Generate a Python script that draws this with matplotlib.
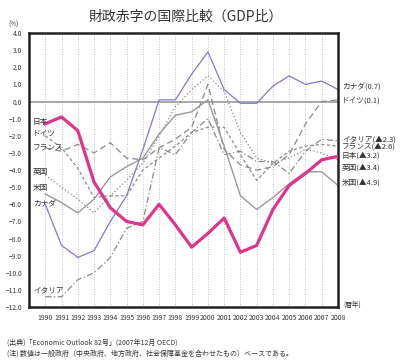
import matplotlib
matplotlib.use("Agg")
import matplotlib.pyplot as plt
import numpy as np

plt.rcParams['font.family'] = ['Noto Sans CJK JP', 'DejaVu Sans']

years = list(range(1990, 2009))
japan   = [-1.3, -0.9, -1.7, -4.7, -6.2, -7.0, -7.2, -6.0, -7.2, -8.5, -7.7, -6.8, -8.8, -8.4, -6.3, -4.9, -4.2, -3.4, -3.2]
canada  = [-6.0, -8.4, -9.1, -8.7, -7.0, -5.5, -2.8, 0.1, 0.1, 1.6, 2.9, 0.7, -0.1, -0.1, 0.9, 1.5, 1.0, 1.2, 0.7]
usa     = [-5.4, -5.9, -6.5, -5.7, -4.4, -3.8, -3.3, -1.9, -0.8, -0.6, 0.1, -2.6, -5.5, -6.3, -5.6, -4.8, -4.1, -4.1, -4.9]
germany = [-2.7, -2.9, -2.5, -3.0, -2.4, -3.3, -3.4, -2.7, -2.2, -1.5, 1.0, -2.8, -3.7, -4.0, -3.8, -3.1, -1.3, 0.0, 0.1]
france  = [-2.0, -2.7, -3.9, -5.6, -5.5, -5.5, -4.0, -3.3, -2.6, -1.8, -1.5, -1.5, -3.1, -4.6, -3.6, -2.9, -2.6, -2.5, -2.6]
uk      = [-4.3, -5.0, -5.7, -6.5, -5.5, -4.6, -3.6, -2.0, -0.3, 0.7, 1.5, 0.6, -1.8, -3.3, -3.6, -3.3, -2.8, -3.0, -3.4]
italy   = [-11.4, -11.4, -10.4, -10.0, -9.1, -7.4, -7.0, -2.7, -3.1, -1.8, -1.0, -3.1, -2.9, -3.5, -3.5, -4.2, -2.9, -2.2, -2.3]

left_labels = ['日本', 'ドイツ', 'フランス', '英国', '米国', 'カナダ', 'イタリア']
left_pos = [-1.2, -1.9, -2.75, -4.1, -5.05, -6.0, -11.05]
right_labels = ['カナダ(0.7)', 'ドイツ(0.1)', 'イタリア(▲2.3)', 'フランス(▲2.6)', '日本(▲3.2)', '英国(▲3.4)', '米国(▲4.9)']
right_pos = [0.85, 0.05, -2.2, -2.65, -3.15, -3.85, -4.75]

fig = plt.figure(figsize=(4.0, 3.63), dpi=100)
ax = fig.add_axes([0.0725, 0.154, 0.7725, 0.755])

for y in years[:-1]:
    ax.axvline(y, color='#aaaaaa', lw=0.6, ls=(0, (1, 2)), zorder=0)
ax.axhline(0, color='#999999', lw=1.2, zorder=1)

gray = '#888888'
ax.plot(years, italy, color=gray, lw=0.9, ls=(0, (5, 2, 1, 2)))
ax.plot(years, france, color=gray, lw=0.9, ls=(0, (2.5, 2)))
ax.plot(years, uk, color=gray, lw=0.9, ls=(0, (1, 1.8)))
ax.plot(years, germany, color=gray, lw=0.9, ls=(0, (5, 3)))
ax.plot(years, usa, color='#999999', lw=1.0, ls='-')
ax.plot(years, canada, color='#7b7bcf', lw=0.9, ls='-')
ax.plot(years, japan, color='#e0348c', lw=2.3, ls='-', zorder=5)

ax.set_xlim(1989, 2008)
ax.set_ylim(-12, 4)
yt = np.arange(-12, 4.1, 1)
ax.set_yticks(yt)
ax.set_yticklabels([f'{v:.1f}'.replace('-', '\u2212') for v in yt], fontsize=4.8, color='#333333')
ax.set_xticks(years)
ax.set_xticklabels([str(y) for y in years], fontsize=4.9, color='#333333')
ax.tick_params(length=0, pad=5)
for s in ax.spines.values():
    s.set_linewidth(1.8)
    s.set_color('#222222')

for t, v in zip(left_labels, left_pos):
    ax.text(1989.25, v, t, fontsize=5.5, va='center', ha='left', color='#333333', zorder=6)
for t, v in zip(right_labels, right_pos):
    ax.text(2008.25, v, t, fontsize=5.5, va='center', ha='left', color='#333333', clip_on=False)

fig.text(0.465, 0.955, '財政赤字の国際比較（GDP比）', fontsize=10, ha='center', va='center', color='#333333')
fig.text(0.02, 0.933, '(%)', fontsize=4.5, ha='left', va='center', color='#333333')
ax.text(2008.3, -11.85, '(暦年)', fontsize=4.8, ha='left', va='center', color='#333333', clip_on=False)
fig.text(0.018, 0.055, '(出典)「Economic Outlook 82号」(2007年12月 OECD)', fontsize=5, ha='left', va='center', color='#333333')
fig.text(0.018, 0.027, '(注) 数値は一般政府（中央政府、地方政府、社会保障基金を合わせたもの）ベースである。', fontsize=5, ha='left', va='center', color='#333333')

fig.savefig('out.png', dpi=100)
